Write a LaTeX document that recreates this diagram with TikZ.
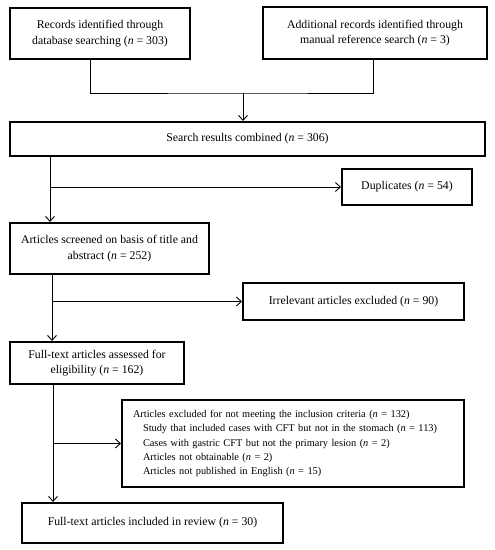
\documentclass[tikz,border=0pt]{standalone}
\usepackage{fontspec}
\setmainfont{Liberation Serif}
\usetikzlibrary{arrows.meta,calc}
\begin{document}
\begin{tikzpicture}[x=1pt,y=-1pt,
  box/.style={draw,line width=2pt,inner sep=0pt,align=center,font=\fontsize{11.8}{15.5}\selectfont},
  conn/.style={line width=0.9pt},
  arr/.style={conn,-{Straight Barb[length=5pt,width=9pt]}}]
\useasboundingbox[fill=white] (0,0) rectangle (495,550);
\node[box,minimum width=180pt,minimum height=51pt] (b1) at (100,33.5) {\raisebox{-1.5pt}{\begin{tabular}{@{}c@{}}Records identified through\\database searching (\textit{n} = 303)\end{tabular}}};
\node[box,minimum width=224pt,minimum height=52pt] (b2) at (375,33) {\raisebox{-1.5pt}{\begin{tabular}{@{}c@{}}Additional records identified through\\manual reference search (\textit{n} = 3)\end{tabular}}};
\node[box,minimum width=475pt,minimum height=34pt] (b3) at (247.5,139) {\raisebox{-3pt}{Search results combined (\textit{n} = 306)}};
\node[box,minimum width=130pt,minimum height=36pt] (dup) at (407,187) {\raisebox{-3pt}{Duplicates (\textit{n} = 54)}};
\node[box,minimum width=199pt,minimum height=51pt] (b4) at (109.5,248.5) {\raisebox{-1.5pt}{\begin{tabular}{@{}c@{}}Articles screened on basis of title and\\abstract (\textit{n} = 252)\end{tabular}}};
\node[box,minimum width=221pt,minimum height=37pt] (irr) at (353.5,301.5) {\raisebox{-3pt}{Irrelevant articles excluded (\textit{n} = 90)}};
\node[box,minimum width=174pt,minimum height=42pt] (b5) at (97,363) {\raisebox{-1.5pt}{\begin{tabular}{@{}c@{}}Full-text articles assessed for\\eligibility (\textit{n} = 162)\end{tabular}}};
\node[box,minimum width=342pt,minimum height=87pt,align=left,inner xsep=11pt,text width=320pt,font=\fontsize{10.35}{14.25}\selectfont] (exc) at (293,443.5) {Articles excluded for not meeting the inclusion criteria (\textit{n} = 132)\\
\hspace*{10pt}Study that included cases with CFT but not in the stomach (\textit{n} = 113)\\
\hspace*{10pt}Cases with gastric CFT but not the primary lesion (\textit{n} = 2)\\
\hspace*{10pt}Articles not obtainable (\textit{n} = 2)\\
\hspace*{10pt}Articles not published in English (\textit{n} = 15)};
\node[box,minimum width=261pt,minimum height=40pt] (b6) at (152.5,523) {\raisebox{-3pt}{Full-text articles included in review (\textit{n} = 30)}};
% connectors
\coordinate (j) at (243,93);
\draw[conn] ($(b1.south)+(-10,0)$) |- (j) -| ($(b2.south)+(-2,0)$);
\draw[arr] (j) -- (j |- b3.north);
\coordinate (c1) at (50,0);
\coordinate (c2) at (52,0);
\coordinate (c3) at (53,0);
\draw[arr] (b3.south -| c1) -- (b4.north -| c1);
\draw[arr] (c1 |- dup) -- (dup.west);
\draw[arr] (b4.south -| c2) -- (b5.north -| c2);
\draw[arr] (c2 |- irr) -- (irr.west);
\draw[arr] (b5.south -| c3) -- (b6.north -| c3);
\draw[arr] (c3 |- exc) -- (exc.west);
\end{tikzpicture}
\end{document}
